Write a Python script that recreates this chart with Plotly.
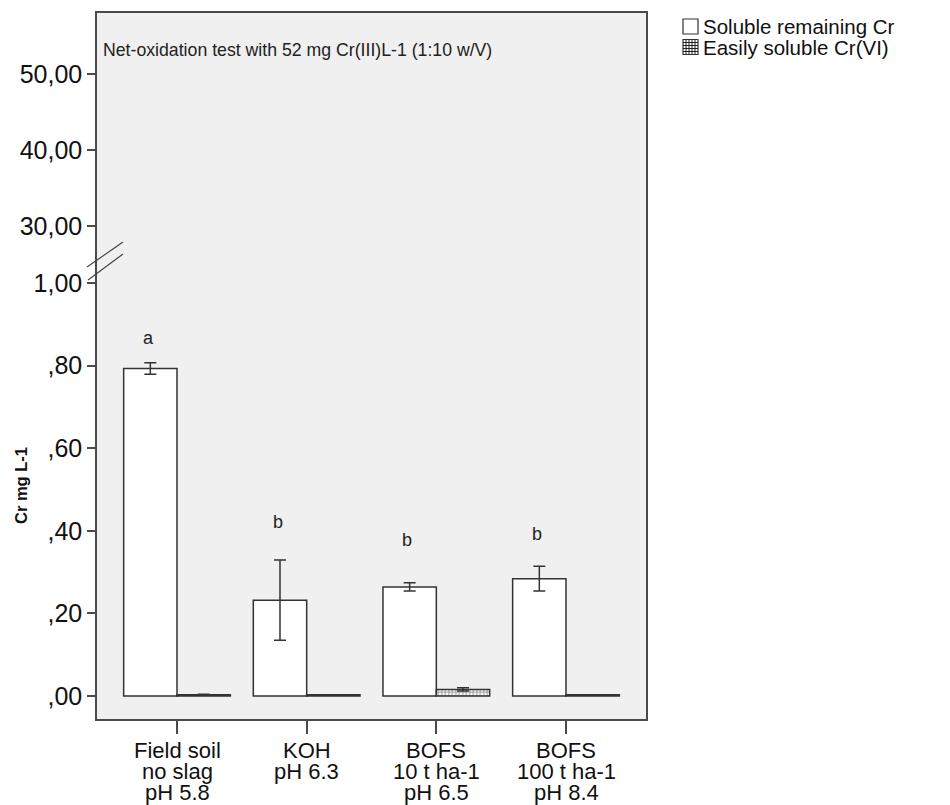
import plotly.graph_objects as go

# ---- data ----
categories = ["Field soil", "KOH", "BOFS 10", "BOFS 100"]
label_lines = [["Field soil", "no slag", "pH 5.8"],
               ["KOH", "pH 6.3"],
               ["BOFS", "10 t ha-1", "pH 6.5"],
               ["BOFS", "100 t ha-1", "pH 8.4"]]
soluble_cr = [0.793, 0.232, 0.264, 0.284]
soluble_cr_err = [0.014, 0.097, 0.010, 0.030]
cr6 = [0.003, 0.003, 0.016, 0.003]
cr6_err = [0.001, 0.0, 0.004, 0.0]
letters = ["a", "b", "b", "b"]
letter_y = [0.868, 0.421, 0.377, 0.392]
lower_ticks = [0, 0.2, 0.4, 0.6, 0.8, 1.0]
lower_ticklabels = [",00", ",20", ",40", ",60", ",80", "1,00"]
upper_ticks = [30, 40, 50]
upper_ticklabels = ["30,00", "40,00", "50,00"]
series_names = ["Soluble remaining Cr", "Easily soluble Cr(VI)"]
title_text = "Net-oxidation test with 52 mg Cr(III)L-1 (1:10 w/V)"
y_title = "Cr mg L-1"

# page body has an 8px margin: lay out in window pixels and convert
OFF = 8
W, H = 950 - OFF, 805 - OFF
FONT = "Arial, Liberation Sans, sans-serif"
LINE = "#4a4a4a"
DARK = "#333333"


def px(x):
    return (x - OFF) / W


def py(y):
    return 1 - (y - OFF) / H


fig = go.Figure()
fig.add_trace(go.Bar(
    x=categories, y=soluble_cr, name=series_names[0], showlegend=False,
    marker=dict(color="white", line=dict(color=DARK, width=1.5)),
    error_y=dict(type="data", array=soluble_cr_err, color=DARK, thickness=1.5, width=6),
    xaxis="x", yaxis="y"))
fig.add_trace(go.Bar(
    x=categories, y=cr6, name=series_names[1], showlegend=False,
    marker=dict(color="white", line=dict(color=DARK, width=1.5),
                pattern=dict(shape="+", fgcolor="#1a1a1a", bgcolor="white", size=3.5, solidity=0.45)),
    error_y=dict(type="data", array=cr6_err, color=DARK, thickness=1.5, width=6),
    xaxis="x", yaxis="y"))
fig.add_trace(go.Scatter(x=[], y=[], xaxis="x2", yaxis="y2", showlegend=False))

xr = [-0.617, 3.617]
xdom = [px(97), px(646)]
axis_common = dict(showgrid=False, zeroline=False, linecolor=LINE, linewidth=1.5,
                   tickcolor=LINE, tickwidth=1.5,
                   tickfont=dict(family=FONT, size=25, color="#111"))

annotations = []
# x category labels, one annotation per line
line_y = [750, 771, 792]
for cat, lines in zip(categories, label_lines):
    for k, txt in enumerate(lines):
        annotations.append(dict(x=cat, xref="x", y=py(line_y[k]), yref="paper",
                                text=txt, showarrow=False, xanchor="center", yanchor="middle",
                                font=dict(family=FONT, size=22, color="#111")))
# significance letters
for cat, let, ly in zip(categories, letters, letter_y):
    annotations.append(dict(x=cat, xref="x", y=ly, yref="y", text=let, showarrow=False,
                            xshift=-29, font=dict(family=FONT, size=18, color="#222")))
# panel title
annotations.append(dict(x=px(101), xref="paper", y=py(50), yref="paper", text=title_text,
                        showarrow=False, xanchor="left", yanchor="middle",
                        font=dict(family=FONT, size=17.7, color="#222")))
# y title
annotations.append(dict(x=px(21), xref="paper", y=py(486), yref="paper", text="<b>" + y_title + "</b>",
                        showarrow=False, textangle=-90, xanchor="center", yanchor="middle",
                        font=dict(family=FONT, size=16.5, color="#111")))
# legend texts
legend_y = [26.5, 47]
for name, ly in zip(series_names, legend_y):
    annotations.append(dict(x=px(701), xref="paper", y=py(ly), yref="paper", text=name,
                            showarrow=False, xanchor="left", yanchor="middle",
                            font=dict(family=FONT, size=20.5, color="#111")))

shapes = [
    dict(type="line", xref="paper", yref="paper", x0=px(87), y0=py(267), x1=px(123), y1=py(242),
         line=dict(color="#444", width=1.2)),
    dict(type="line", xref="paper", yref="paper", x0=px(88), y0=py(280), x1=px(123), y1=py(254),
         line=dict(color="#444", width=1.2)),
]
# legend swatches
bx0, bx1 = 683, 698
for ly in legend_y:
    shapes.append(dict(type="rect", xref="paper", yref="paper",
                       x0=px(bx0), x1=px(bx1), y0=py(ly + 7.5), y1=py(ly - 7.5),
                       fillcolor="white", line=dict(color=DARK, width=1.2)))
ly = legend_y[1]
for k in range(1, 5):
    gx = bx0 + 3 * k
    shapes.append(dict(type="line", xref="paper", yref="paper", x0=px(gx), x1=px(gx),
                       y0=py(ly + 7.5), y1=py(ly - 7.5), line=dict(color="#222", width=1)))
    gy = ly - 7.5 + 3 * k
    shapes.append(dict(type="line", xref="paper", yref="paper", x0=px(bx0), x1=px(bx1),
                       y0=py(gy), y1=py(gy), line=dict(color="#222", width=1)))

fig.update_layout(
    width=W, height=H,
    margin=dict(l=0, r=0, t=0, b=0),
    paper_bgcolor="white", plot_bgcolor="#f0f0f0",
    barmode="group", bargap=0.177, bargroupgap=0,
    font=dict(family=FONT, color="#111"),
    showlegend=False,
    xaxis=dict(domain=xdom, range=xr, type="category", anchor="y", showline=True, mirror=False,
               ticks="outside", ticklen=13, showticklabels=False, **axis_common),
    yaxis=dict(domain=[py(719), py(267)], range=[-0.0557, 1.0387], anchor="x",
               tickvals=lower_ticks, ticktext=lower_ticklabels,
               showline=True, mirror=True, ticks="outside", ticklen=8, **axis_common),
    xaxis2=dict(domain=xdom, range=xr, anchor="y2", side="top", showline=True, mirror=False,
                ticks="", showticklabels=False, **axis_common),
    yaxis2=dict(domain=[py(267), py(13)], range=[24.6, 58.03], anchor="x2",
                tickvals=upper_ticks, ticktext=upper_ticklabels,
                showline=True, mirror=True, ticks="outside", ticklen=8, **axis_common),
    annotations=annotations,
    shapes=shapes,
)

fig.write_html("out.html")
